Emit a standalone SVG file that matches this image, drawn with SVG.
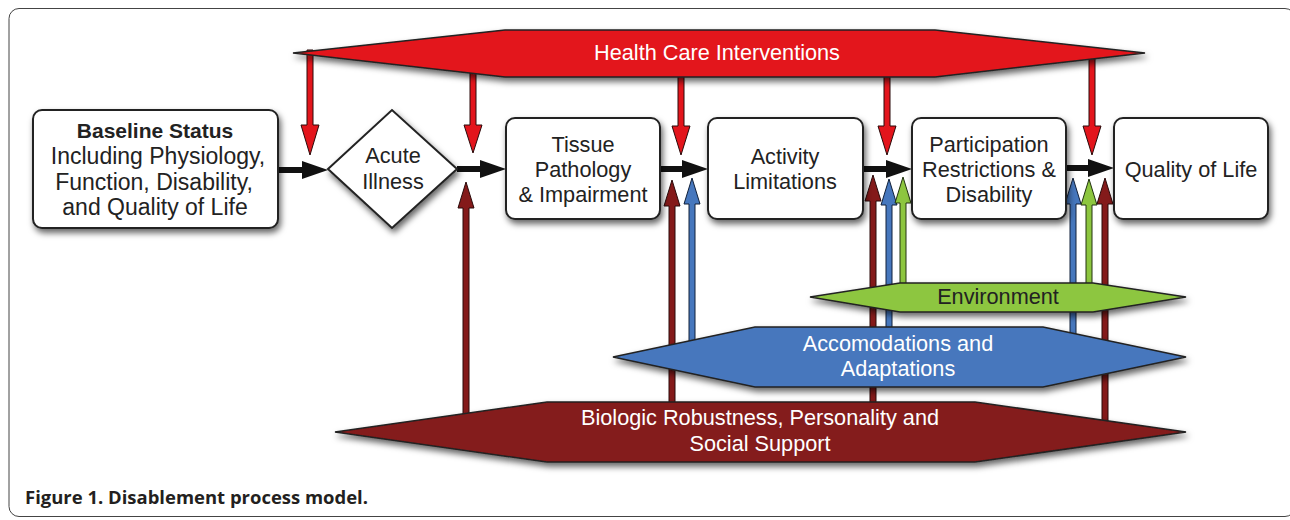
<svg xmlns="http://www.w3.org/2000/svg" width="1290" height="520" viewBox="0 0 1290 520">
<style>
.box{fill:#fff;stroke:#222;stroke-width:2;filter:url(#sh)}
.hex{stroke:#222;stroke-width:1.5;filter:url(#sh)}
.t{font-family:"Liberation Sans",Arial,sans-serif;font-size:21.7px;fill:#222;text-anchor:middle}
.lg{font-size:23px}
.w{fill:#fff}
.b{font-weight:bold;font-size:21px}
.red{fill:#e3151c;stroke:#2a0a0a;stroke-width:1}
.dred{fill:#841a1a;stroke:#2a0a0a;stroke-width:1}
.blue{fill:#4677bd;stroke:#10203a;stroke-width:1}
.green{fill:#8dc63f;stroke:#223310;stroke-width:1}
.flow{stroke:#111;stroke-width:6;fill:none}
.head{fill:#111}
.cap{font-family:"Open Sans","DejaVu Sans",sans-serif;font-weight:bold;font-size:17px;fill:#231f20}
</style>
<defs>
<filter id="sh" x="-10%" y="-30%" width="120%" height="170%">
<feDropShadow dx="2" dy="4" stdDeviation="3" flood-color="#000" flood-opacity="0.6"/>
</filter>
</defs>
<rect x="9" y="8.5" width="1286" height="508" rx="10" fill="#fff" stroke="#444" stroke-width="1"/>

<g id="connectors">
<!-- red down arrows from Health Care Interventions -->
<path class="red" d="M307,50 V125 H301 L310,155 L319,125 H313 V50 Z"/>
<path class="red" d="M470,60 V125 H464 L473,153 L482,125 H476 V60 Z"/>
<path class="red" d="M678,60 V126 H672 L681,155 L690,126 H684 V60 Z"/>
<path class="red" d="M884,60 V126 H878 L887,155 L896,126 H890 V60 Z"/>
<path class="red" d="M1089,50 V126 H1083 L1092,155 L1101,126 H1095 V50 Z"/>
<!-- up arrows -->
<path class="dred" d="M463,425 V208 H458 L466,182 L474,208 H469 V425 Z"/>
<path class="dred" d="M669,410 V206 H664 L672,180 L680,206 H675 V410 Z"/>
<path class="blue" d="M689,350 V204 H684 L692,178 L700,204 H695 V350 Z"/>
<path class="dred" d="M870,410 V201 H865 L873,175 L881,201 H876 V410 Z"/>
<path class="blue" d="M886,335 V205 H881 L889,179 L897,205 H892 V335 Z"/>
<path class="green" d="M900,290 V203 H895 L903,177 L911,203 H906 V290 Z"/>
<path class="blue" d="M1070,335 V204 H1065 L1073,178 L1081,204 H1076 V335 Z"/>
<path class="green" d="M1086,290 V205 H1081 L1089,179 L1097,205 H1092 V290 Z"/>
<path class="dred" d="M1102,428 V204 H1097 L1105,178 L1113,204 H1108 V428 Z"/>
<!-- black flow arrows -->
<line class="flow" x1="278" y1="170" x2="304" y2="170"/>
<polygon class="head" points="302,161 328,170 302,179"/>
<line class="flow" x1="457" y1="169" x2="482" y2="169"/>
<polygon class="head" points="480,160 506,169 480,178"/>
<line class="flow" x1="660" y1="169" x2="684" y2="169"/>
<polygon class="head" points="682,160 708,169 682,178"/>
<line class="flow" x1="863" y1="169" x2="888" y2="169"/>
<polygon class="head" points="886,160 912,169 886,178"/>
<line class="flow" x1="1066" y1="168" x2="1090" y2="168"/>
<polygon class="head" points="1088,159 1114,168 1088,177"/>
</g>

<g id="health-care">
<polygon class="hex" fill="#e3151c" points="293,53 505,30 935,30 1145,53 935,77 505,77"/>
<text class="t w" x="717" y="60">Health Care Interventions</text>
</g>

<g id="baseline">
<rect class="box" x="33" y="110" width="245" height="118" rx="9"/>
<text class="t b" x="155" y="138">Baseline Status</text>
<text class="t lg" x="158" y="164">Including Physiology,</text>
<text class="t lg" x="154" y="190">Function, Disability,</text>
<text class="t lg" x="155" y="215">and Quality of Life</text>
</g>

<g id="acute">
<polygon class="box" points="328,169 392,110 457,169 392,228"/>
<text class="t" x="393" y="163">Acute</text>
<text class="t" x="393" y="189">Illness</text>
</g>

<g id="tissue">
<rect class="box" x="506" y="118" width="154" height="101" rx="9"/>
<text class="t" x="583" y="152">Tissue</text>
<text class="t" x="583" y="177">Pathology</text>
<text class="t" x="583" y="202">&amp; Impairment</text>
</g>

<g id="activity">
<rect class="box" x="708" y="118" width="155" height="101" rx="9"/>
<text class="t" x="785" y="164">Activity</text>
<text class="t" x="785" y="189">Limitations</text>
</g>

<g id="participation">
<rect class="box" x="912" y="118" width="154" height="101" rx="9"/>
<text class="t" x="989" y="152">Participation</text>
<text class="t" x="989" y="177">Restrictions &amp;</text>
<text class="t" x="989" y="202">Disability</text>
</g>

<g id="quality">
<rect class="box" x="1114" y="118" width="154" height="101" rx="9"/>
<text class="t" x="1191" y="177">Quality of Life</text>
</g>

<g id="environment">
<polygon class="hex" fill="#8dc63f" points="810,297 900,283 1093,283 1186,297 1093,312 900,312"/>
<text class="t" x="998" y="304">Environment</text>
</g>

<g id="accommodations">
<polygon class="hex" fill="#4677bd" points="613,357 755,327 1043,327 1186,357 1043,387 755,387"/>
<text class="t w" x="898" y="351">Accomodations and</text>
<text class="t w" x="898" y="376">Adaptations</text>
</g>

<g id="biologic">
<polygon class="hex" fill="#841a1a" points="335,432 547,402 975,402 1186,432 975,462 547,462"/>
<text class="t w" x="760" y="425">Biologic Robustness, Personality and</text>
<text class="t w" x="760" y="451">Social Support</text>
</g>

<text class="cap" x="25" y="504" textLength="343" lengthAdjust="spacingAndGlyphs">Figure 1. Disablement process model.</text>
</svg>
